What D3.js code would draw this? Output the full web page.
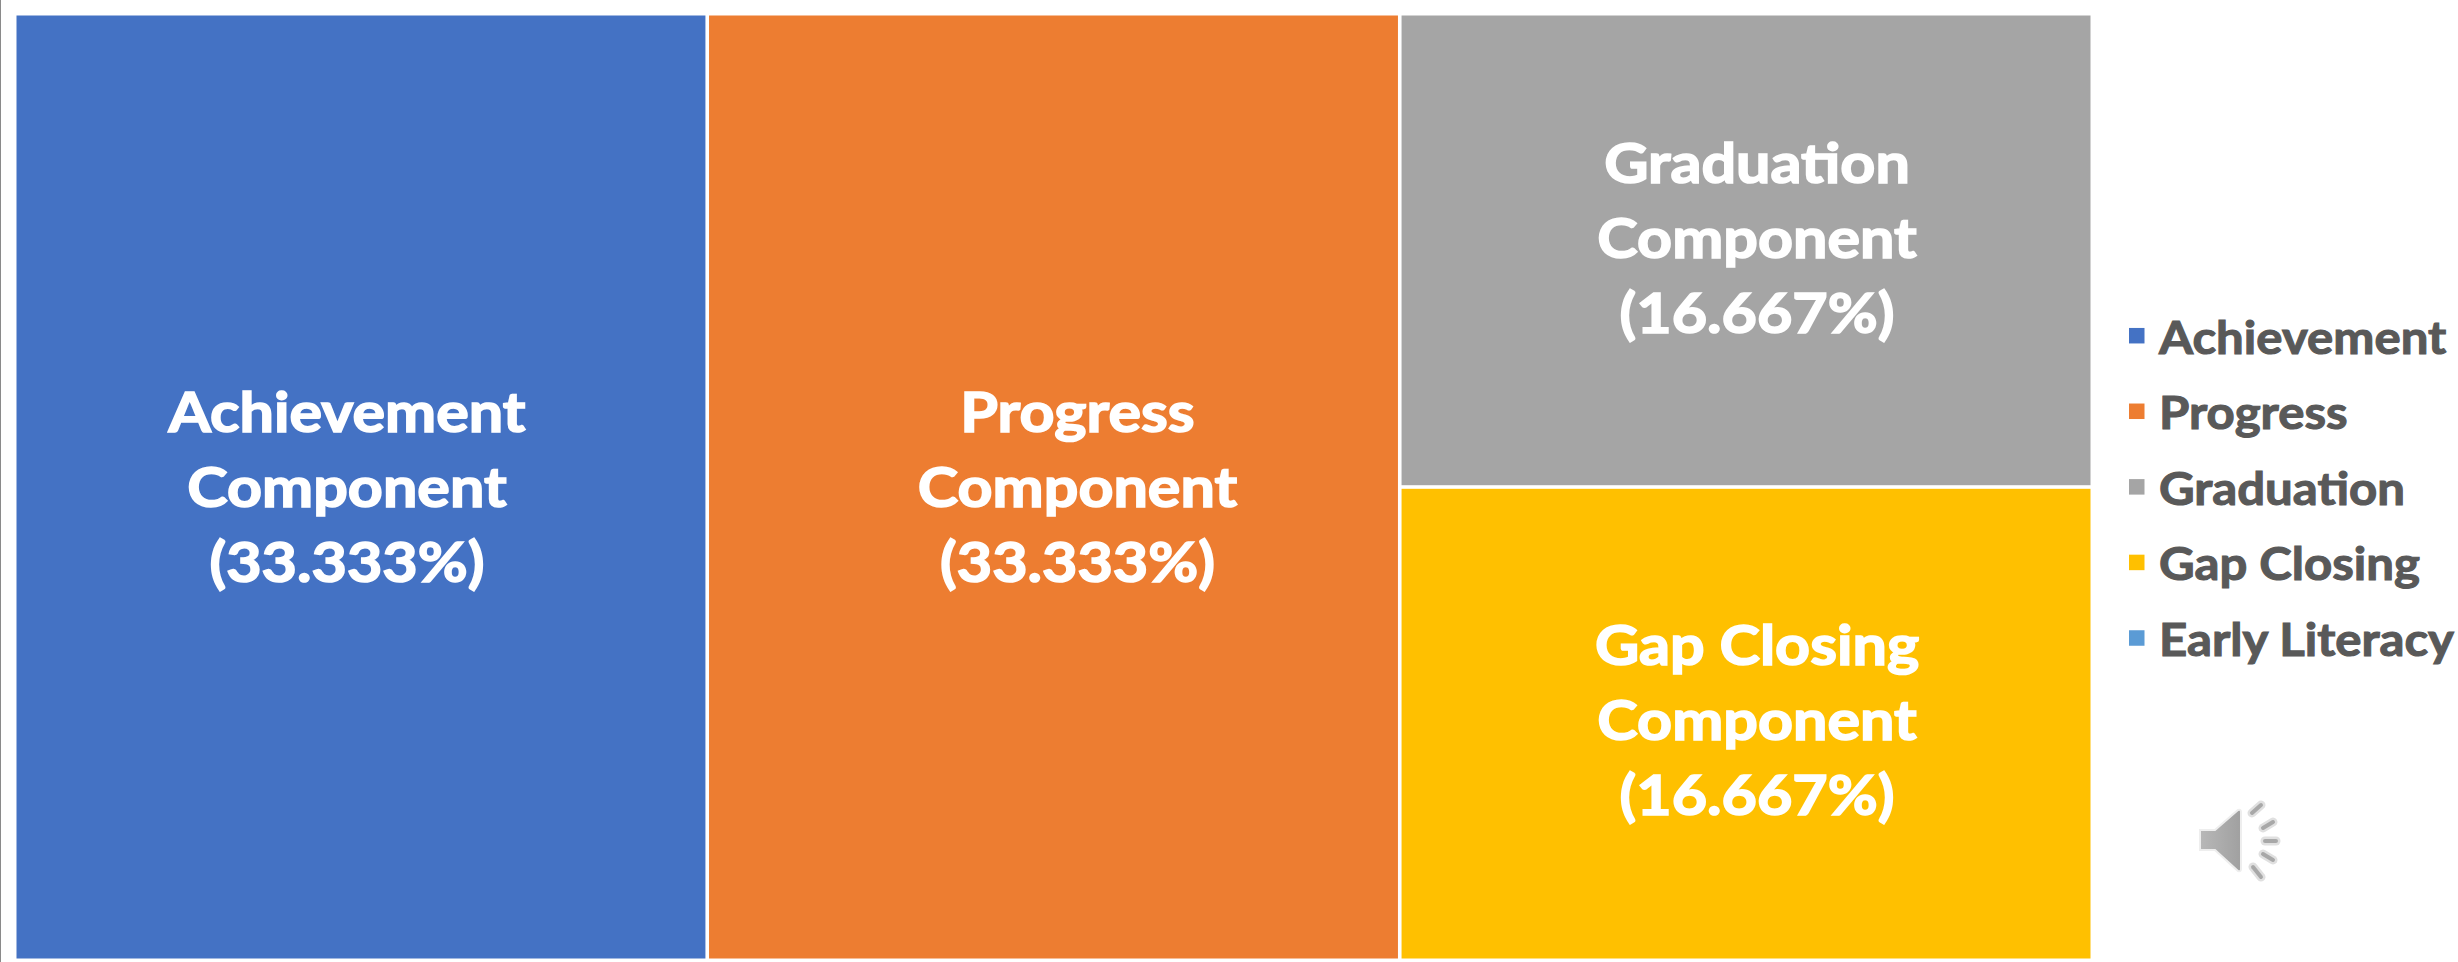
<!DOCTYPE html>
<html><head><meta charset="utf-8">
<script src="https://cdn.jsdelivr.net/npm/d3@7"></script>
<style>html,body{margin:0;padding:0;background:#fff;overflow:hidden}svg{display:block}
text{font-family:Lato,"Open Sans",sans-serif;font-weight:700}</style></head><body>
<svg id="c" width="2458" height="962"></svg>
<script>
const categories = ["Achievement","Progress","Graduation","Gap Closing","Early Literacy"];
const values = [33.333,33.333,16.667,16.667,0];
const colors = ["#4472C4","#ED7D31","#A5A5A5","#FFC000","#5B9BD5"];
const labelLines = [["Achievement","Component","(33.333%)"],["Progress","Component","(33.333%)"],["Graduation","Component","(16.667%)"],["Gap Closing","Component","(16.667%)"],[]];
const labelShiftX = [-14,24,11,11,0];
const labelShiftY = [20,20,7.5,16,0];

const svg = d3.select("#c");
svg.append("rect").attr("x",0).attr("y",0).attr("width",1).attr("height",962).attr("fill","#8a8a8a");

const root = d3.hierarchy({children:categories.map((name,i)=>({name,i,value:values[i]}))})
  .sum(d=>d.value||0);
d3.treemap().tile(d3.treemapSquarify.ratio(1)).size([2074,943]).paddingInner(3.6).round(false)(root);
const g = svg.append("g").attr("transform","translate(16.5,15.5)");
const leaves = root.leaves().filter(d=>d.value>0);
const cell = g.selectAll("g").data(leaves).join("g");
cell.append("rect").attr("x",d=>d.x0).attr("y",d=>d.y0)
  .attr("width",d=>d.x1-d.x0).attr("height",d=>d.y1-d.y0)
  .attr("fill",d=>colors[d.data.i]);
const lh = 75;
cell.each(function(d){
  const lines = labelLines[d.data.i];
  const cx=(d.x0+d.x1)/2+labelShiftX[d.data.i], cy=(d.y0+d.y1)/2;
  d3.select(this).selectAll("text").data(lines).join("text")
    .attr("transform",(l,i)=>`translate(${cx},${cy+(i-1)*lh+labelShiftY[d.data.i]}) scale(1.09,1)`)
    .attr("text-anchor","middle").attr("fill","#fff").attr("stroke","#fff").attr("stroke-width",1.6)
    .attr("font-size",56).text(l=>l);
});
const legY = d3.scalePoint().domain(categories).range([335.7,638]);
const leg = svg.append("g").selectAll("g").data(categories).join("g");
leg.append("rect").attr("x",2129).attr("y",d=>legY(d)-7.75).attr("width",15.5).attr("height",15.5)
  .attr("fill",(d,i)=>colors[i]);
leg.append("text").attr("transform",d=>`translate(2159,${legY(d)+18}) scale(1.068,1)`).attr("font-size",46).attr("fill","#595959")
  .attr("stroke","#595959").attr("stroke-width",1.1).text(d=>d);

// speaker icon
const ic = svg.append("g").attr("transform","translate(2160,782)");
const grad = svg.append("defs").append("linearGradient").attr("id","sp").attr("x1",0).attr("x2",1).attr("y1",0).attr("y2",0);
grad.append("stop").attr("offset",0).attr("stop-color","#b8b8b8");
grad.append("stop").attr("offset",1).attr("stop-color","#a0a0a0");
ic.append("path").attr("d","M40,48 H55 L78,28 Q81,27 81,30 V87 Q81,90 78,89 L55,68 H40 Z")
  .attr("fill","url(#sp)").attr("stroke","#eeeeee").attr("stroke-width",2);
[[92,31,101,23],[103,46,113,40],[105,59,116,59],[103,72,113,78],[93,85,101,95]].forEach(s=>{
  ic.append("line").attr("x1",s[0]).attr("y1",s[1]).attr("x2",s[2]).attr("y2",s[3])
    .attr("stroke","#e0e0e0").attr("stroke-width",9).attr("stroke-linecap","round");
  ic.append("line").attr("x1",s[0]).attr("y1",s[1]).attr("x2",s[2]).attr("y2",s[3])
    .attr("stroke","#a8a8a8").attr("stroke-width",4).attr("stroke-linecap","round");
});
</script></body></html>
